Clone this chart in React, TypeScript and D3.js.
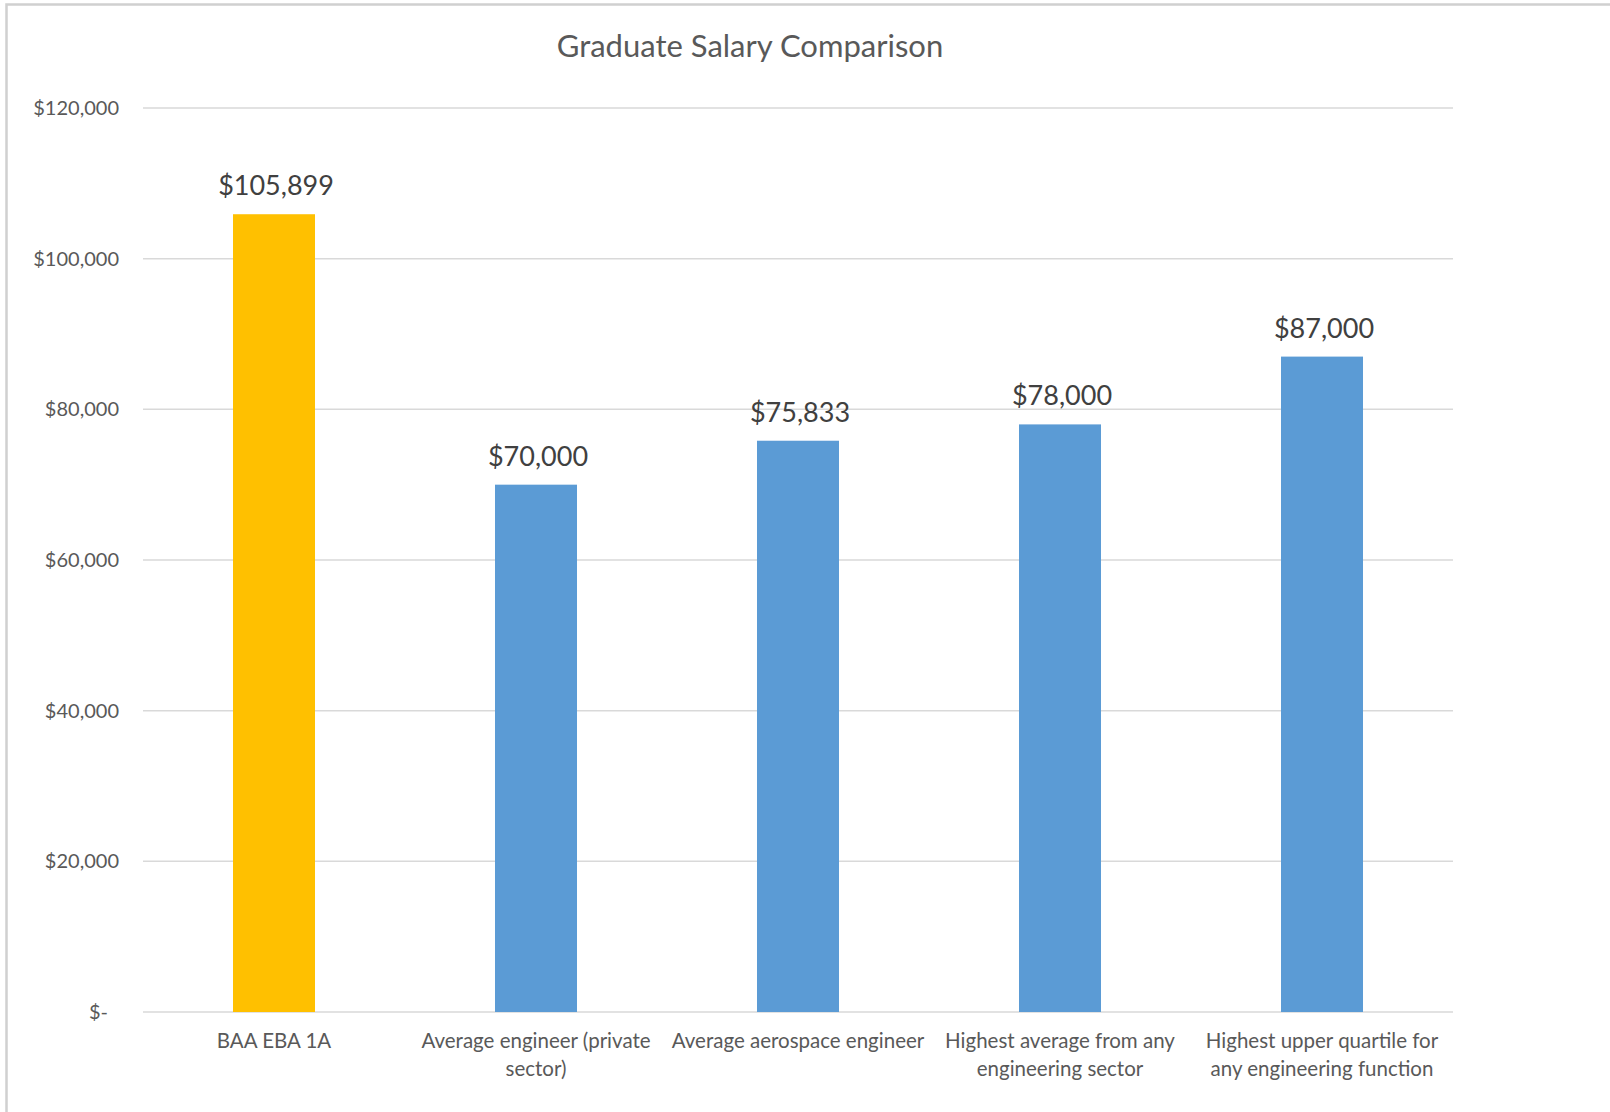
import React, { useEffect, useRef } from 'react';
import * as d3 from 'd3';

// chart data
const categories = [
  'BAA EBA 1A',
  'Average engineer (private\nsector)',
  'Average aerospace engineer',
  'Highest average from any\nengineering sector',
  'Highest upper quartile for\nany engineering function'
];
const salaries = [105899, 70000, 75833, 78000, 87000];
const barColors = ['#FFC000', '#5B9BD5', '#5B9BD5', '#5B9BD5', '#5B9BD5'];
const yTicks = [0, 20000, 40000, 60000, 80000, 100000, 120000];
const title = 'Graduate Salary Comparison';

const W = 1610;
const H = 1112;
const font = 'Lato, "Open Sans", sans-serif';

export default () => {
  const svgRef = useRef<SVGSVGElement>(null);

  useEffect(() => {
    if (!svgRef.current) return;
    const svg = d3.select(svgRef.current);
    svg.selectAll('*').remove();

    const left = 143;
    const right = 1453;
    const top = 108;
    const bottom = 1012;

    const x = d3.scaleBand<string>()
      .domain(categories)
      .range([left, right])
      .paddingInner(0.687)
      .paddingOuter(0.3435);
    const y = d3.scaleLinear().domain([0, 120000]).range([bottom, top]);

    const money = (v: number) => (v === 0 ? '$-' : '$' + d3.format(',')(v));

    // page background + chart area border (only left and top edges visible)
    svg.append('rect')
      .attr('width', W)
      .attr('height', H)
      .attr('fill', '#fff');
    svg.append('path')
      .attr('d', `M6.5,${H} V4.5 H${W}`)
      .attr('fill', 'none')
      .attr('stroke', '#D0D0D0')
      .attr('stroke-width', 2.5);

    // title
    svg.append('text')
      .attr('x', 750)
      .attr('y', 57)
      .attr('text-anchor', 'middle')
      .style('font-family', font)
      .style('font-size', '31px')
      .style('fill', '#595959')
      .text(title);

    // gridlines
    svg.append('g')
      .selectAll('line')
      .data(yTicks)
      .enter()
      .append('line')
      .attr('x1', left)
      .attr('x2', right)
      .attr('y1', d => y(d))
      .attr('y2', d => y(d))
      .attr('stroke', '#D9D9D9')
      .attr('stroke-width', 1.5);

    // y tick labels
    svg.append('g')
      .selectAll('text')
      .data(yTicks)
      .enter()
      .append('text')
      .attr('x', d => (d === 0 ? 108 : 119))
      .attr('y', d => y(d) + 7)
      .attr('text-anchor', 'end')
      .style('font-family', font)
      .style('font-size', '20px')
      .style('fill', '#595959')
      .text(d => money(d));

    // bars
    svg.append('g')
      .selectAll('rect')
      .data(salaries)
      .enter()
      .append('rect')
      .attr('x', (d, i) => x(categories[i]) as number)
      .attr('width', x.bandwidth())
      .attr('y', d => y(d))
      .attr('height', d => bottom - y(d))
      .attr('fill', (d, i) => barColors[i]);

    // data labels
    svg.append('g')
      .selectAll('text')
      .data(salaries)
      .enter()
      .append('text')
      .attr('x', (d, i) => (x(categories[i]) as number) + x.bandwidth() / 2 + 2)
      .attr('y', d => y(d) - 19)
      .attr('text-anchor', 'middle')
      .style('font-family', font)
      .style('font-size', '27px')
      .style('fill', '#404040')
      .text(d => money(d));

    // category labels
    const cat = svg.append('g')
      .selectAll('text')
      .data(categories)
      .enter()
      .append('text')
      .attr('x', d => (x(d) as number) + x.bandwidth() / 2)
      .attr('y', 1048)
      .attr('text-anchor', 'middle')
      .style('font-family', font)
      .style('font-size', '20.5px')
      .style('fill', '#595959');
    cat.each(function (d) {
      const t = d3.select(this);
      const cx = t.attr('x');
      d.split('\n').forEach((line, i) => {
        t.append('tspan')
          .attr('x', cx)
          .attr('dy', i === 0 ? 0 : 27.5)
          .text(line);
      });
    });
  }, []);

  return (
    <div style={{ position: 'absolute', left: 0, top: 0, width: W, height: H, overflow: 'hidden' }}>
      <svg ref={svgRef} width={W} height={H} style={{ display: 'block' }} />
    </div>
  );
};
